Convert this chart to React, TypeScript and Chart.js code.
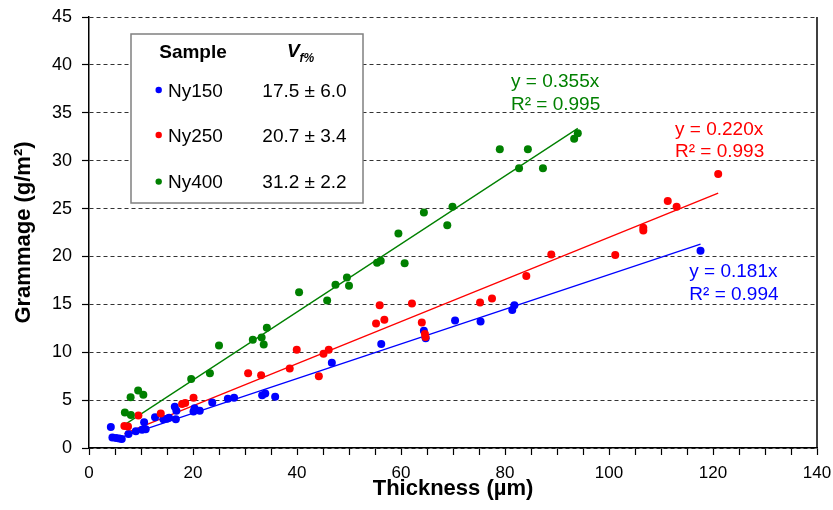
import React, { useEffect, useRef } from "react";
import { Chart, registerables } from "chart.js";

Chart.register(...registerables);

// ---------- data ----------
const ny150X = [4.2, 4.5, 5.2, 5.8, 6.3, 7.6, 9.0, 10.2, 10.9, 10.6, 12.7, 14.3, 15.0, 15.4, 16.5, 16.8, 16.7, 20.1, 20.3, 21.3, 23.7, 26.7, 27.9, 33.3, 33.9, 35.8, 46.7, 56.2, 64.4, 64.75, 70.4, 75.3, 81.4, 81.8, 117.6];
const ny150Y = [2.2, 1.1, 1.05, 1.0, 0.95, 1.45, 1.75, 1.9, 1.95, 2.7, 3.2, 3.0, 3.05, 3.15, 4.3, 3.9, 3.0, 3.8, 4.15, 3.9, 4.75, 5.15, 5.25, 5.5, 5.7, 5.35, 8.9, 10.85, 12.25, 11.45, 13.3, 13.2, 14.4, 14.9, 20.6];

const ny250X = [6.8, 7.5, 9.5, 13.8, 17.9, 18.5, 20.1, 30.6, 33.1, 38.6, 39.95, 44.2, 45.1, 46.1, 55.2, 55.9, 56.8, 62.1, 64.0, 64.6, 64.7, 75.2, 77.5, 84.1, 88.9, 101.2, 106.6, 106.6, 111.3, 113.0, 121.0];
const ny250Y = [2.3, 2.25, 3.4, 3.6, 4.6, 4.7, 5.25, 7.8, 7.6, 8.3, 10.27, 7.5, 9.85, 10.27, 13.0, 14.9, 13.4, 15.1, 13.1, 11.9, 11.6, 15.2, 15.6, 17.95, 20.2, 20.15, 23.0, 22.7, 25.8, 25.2, 28.6];

const ny400X = [6.9, 8.0, 8.05, 9.45, 10.45, 19.65, 23.25, 25.0, 31.5, 33.2, 33.6, 34.2, 40.4, 45.8, 47.4, 49.6, 50.0, 55.4, 56.1, 59.5, 60.7, 64.4, 68.9, 69.9, 79.0, 82.7, 84.4, 87.3, 93.3, 94.0];
const ny400Y = [3.7, 5.3, 3.45, 6.0, 5.55, 7.2, 7.8, 10.7, 11.3, 11.55, 10.8, 12.55, 16.25, 15.4, 17.05, 17.8, 16.95, 19.35, 19.55, 22.4, 19.3, 24.6, 23.25, 25.2, 31.2, 29.2, 31.2, 29.2, 32.3, 32.85];

const sampleNames = ["Ny150", "Ny250", "Ny400"];
const vfValues = ["17.5 ± 6.0", "20.7 ± 3.4", "31.2 ± 2.2"];
const slopes = [0.181, 0.22, 0.355];
const slopeLabels = ["y = 0.181x", "y = 0.220x", "y = 0.355x"];
const r2Labels = ["R² = 0.994", "R² = 0.993", "R² = 0.995"];
const fitStartX = [6.8, 6.8, 6.8];
const fitEndX = [117.6, 121.0, 94.0];

const xMin = 0;
const xMax = 140;
const xStep = 5;
const xLabelEvery = 20;
const yMin = 0;
const yMax = 45;
const yStep = 5;

const xTitle = "Thickness (µm)";
const yTitle = "Grammage (g/m²)";

const COLORS = ["#0000FF", "#FF0000", "#008000"];
const FONT = "'Liberation Sans', Arial, Helvetica, sans-serif";

const seriesX = [ny150X, ny250X, ny400X];
const seriesY = [ny150Y, ny250Y, ny400Y];

const toPoints = (xs: number[], ys: number[]) => xs.map((x, i) => ({ x, y: ys[i] }));

const framePlugin = {
  id: "frame",
  beforeDatasetsDraw(chart: any) {
    const { ctx, chartArea } = chart;
    ctx.save();
    ctx.strokeStyle = "#000";
    ctx.lineWidth = 1.5;
    ctx.beginPath();
    ctx.moveTo(chartArea.right, chartArea.top);
    ctx.lineTo(chartArea.right, chartArea.bottom);
    ctx.stroke();
    ctx.restore();
  },
};

const overlayPlugin = {
  id: "overlay",
  afterDraw(chart: any) {
    const { ctx, chartArea } = chart;
    const L = chartArea.left;
    const T = chartArea.top;
    ctx.save();

    // legend table box
    const bx = L + 42;
    const by = T + 17;
    const bw = 232;
    const bh = 169;
    ctx.fillStyle = "#fff";
    ctx.fillRect(bx, by, bw, bh);
    ctx.strokeStyle = "#808080";
    ctx.lineWidth = 1.5;
    ctx.strokeRect(bx, by, bw, bh);

    ctx.fillStyle = "#000";
    ctx.textBaseline = "alphabetic";
    ctx.font = `bold 19px ${FONT}`;
    ctx.textAlign = "center";
    ctx.fillText("Sample", bx + 62, by + 23.5);

    ctx.textAlign = "left";
    ctx.font = `italic bold 19px ${FONT}`;
    ctx.fillText("V", bx + 156, by + 23.3);
    ctx.font = `italic bold 12px ${FONT}`;
    ctx.fillText("f%", bx + 168.5, by + 28);

    const rowBase = [62.7, 107.7, 154.3];
    for (let i = 0; i < 3; i++) {
      ctx.fillStyle = COLORS[i];
      ctx.beginPath();
      ctx.arc(bx + 27.7, by + rowBase[i] - 6.7, 3.2, 0, Math.PI * 2);
      ctx.fill();
      ctx.fillStyle = "#000";
      ctx.font = `19px ${FONT}`;
      ctx.textAlign = "left";
      ctx.fillText(sampleNames[i], bx + 37, by + rowBase[i]);
      ctx.textAlign = "center";
      ctx.fillText(vfValues[i], bx + 173.5, by + rowBase[i]);
    }

    // trendline annotations
    const ann = [
      { x: L + 600.3, y1: T + 260.3, y2: T + 283 },
      { x: L + 586, y1: T + 118, y2: T + 139.7 },
      { x: L + 422, y1: T + 69.7, y2: T + 93 },
    ];
    ctx.font = `19px ${FONT}`;
    ctx.textAlign = "left";
    for (let i = 0; i < 3; i++) {
      ctx.fillStyle = COLORS[i];
      ctx.fillText(slopeLabels[i], ann[i].x, ann[i].y1);
      ctx.fillText(r2Labels[i], ann[i].x, ann[i].y2);
    }
    ctx.restore();
  },
};

export default function App() {
  const ref = useRef<HTMLCanvasElement | null>(null);

  useEffect(() => {
    document.body.style.margin = "0";
    const canvas = ref.current;
    if (!canvas) return;

    const scatterSets = [0, 1, 2].map((i) => ({
      type: "scatter" as const,
      label: sampleNames[i],
      data: toPoints(seriesX[i], seriesY[i]),
      backgroundColor: COLORS[i],
      borderColor: COLORS[i],
      borderWidth: 0,
      pointRadius: 4,
      pointHoverRadius: 4,
      order: 3 - i,
    }));
    const fitSets = [0, 1, 2].map((i) => ({
      type: "line" as const,
      label: sampleNames[i] + " fit",
      data: [
        { x: fitStartX[i], y: slopes[i] * fitStartX[i] },
        { x: fitEndX[i], y: slopes[i] * fitEndX[i] },
      ],
      borderColor: COLORS[i],
      borderWidth: 1.3,
      pointRadius: 0,
      showLine: true,
      fill: false,
      order: 10,
    }));

    const chart = new Chart(canvas, {
      type: "scatter",
      data: { datasets: [...fitSets, ...scatterSets] as any },
      plugins: [framePlugin, overlayPlugin],
      options: {
        responsive: false,
        animation: false,
        layout: { padding: { left: 0, right: 16, top: 17, bottom: 0 } },
        plugins: {
          legend: { display: false },
          tooltip: { enabled: false },
        },
        scales: {
          x: {
            type: "linear",
            min: xMin,
            max: xMax,
            afterFit: (s: any) => {
              s.height = 62;
              s.paddingLeft = 0;
              s.paddingRight = 0;
            },
            ticks: {
              stepSize: xStep,
              autoSkip: false,
              maxRotation: 0,
              padding: 8,
              color: "#000",
              font: { family: FONT, size: 17 },
              callback: (v: any) => (Number(v) % xLabelEvery === 0 ? String(v) : ""),
            },
            grid: {
              display: true,
              drawOnChartArea: false,
              drawTicks: true,
              tickLength: 7,
              color: "#000",
              tickColor: "#000",
              tickWidth: 1.2,
            },
            border: { display: true, color: "#000", width: 1.5 },
            title: {
              display: true,
              text: xTitle,
              color: "#000",
              font: { family: FONT, size: 22, weight: "bold" },
              padding: { top: 0, bottom: 8 },
            },
          },
          y: {
            type: "linear",
            min: yMin,
            max: yMax,
            afterFit: (s: any) => {
              s.width = 89;
              s.paddingTop = 0;
              s.paddingBottom = 0;
            },
            ticks: {
              stepSize: yStep,
              padding: 10,
              color: "#000",
              font: { family: FONT, size: 18 },
            },
            grid: {
              display: true,
              drawOnChartArea: true,
              drawTicks: true,
              tickLength: 7,
              color: "#333",
              lineWidth: 1,
              tickColor: "#000",
              tickWidth: 1.2,
              tickBorderDash: [],
            },
            border: { display: true, color: "#000", width: 1.5, dash: [4, 3] },
            title: {
              display: true,
              text: yTitle,
              color: "#000",
              font: { family: FONT, size: 22, weight: "bold" },
              padding: { top: 11, bottom: 0 },
            },
          },
        },
      } as any,
    });

    return () => chart.destroy();
  }, []);

  return <canvas ref={ref} width={833} height={510} style={{ display: "block" }} />;
}
